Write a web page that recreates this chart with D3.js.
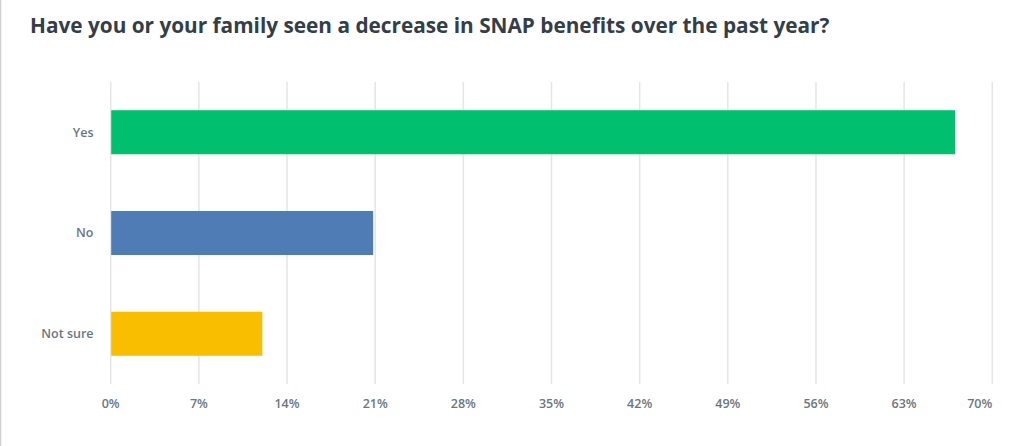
<!DOCTYPE html>
<html>
<head>
<meta charset="utf-8">
<script src="https://cdn.jsdelivr.net/npm/d3@7"></script>
<style>
  html, body { margin: 0; padding: 0; background: #fff; }
  svg { display: block; }
</style>
</head>
<body>
<script>
const title = "Have you or your family seen a decrease in SNAP benefits over the past year?";
const categories = ["Yes", "No", "Not sure"];
const values = [67.0, 20.8, 12.0];
const colors = ["#00bf6f", "#507cb6", "#f9be00"];
const tickValues = [0, 7, 14, 21, 28, 35, 42, 49, 56, 63, 70];

const W = 1024, H = 446;
const svg = d3.select("body").append("svg").attr("width", W).attr("height", H);

// left border
svg.append("line").attr("x1", 0.5).attr("x2", 0.5).attr("y1", 0).attr("y2", H)
  .attr("stroke", "#d0d0d0").attr("stroke-width", 1.5);

const t = svg.append("text")
  .attr("x", 30).attr("y", 33)
  .attr("font-family", "'Open Sans', sans-serif")
  .attr("font-weight", 700)
  .attr("font-size", 21)
  .attr("fill", "#333e48")
  .text(title);
const tl = t.node().getComputedTextLength();
t.attr("font-size", 21 * 800 / tl);

const x = d3.scaleLinear().domain([0, 70]).range([110.7, 992.3]);
const y = d3.scaleBand().domain(categories).range([82, 384]).paddingInner(0.563).paddingOuter(0.28);

// grid
svg.append("g").selectAll("line").data(tickValues).join("line")
  .attr("x1", d => x(d)).attr("x2", d => x(d))
  .attr("y1", 82).attr("y2", 384)
  .attr("stroke", "#e5e5e5").attr("stroke-width", 1.5);

// bars
svg.append("g").selectAll("rect").data(categories).join("rect")
  .attr("x", x(0) + 0.5)
  .attr("y", d => y(d))
  .attr("width", (d, i) => x(values[i]) - x(0))
  .attr("height", y.bandwidth())
  .attr("fill", (d, i) => colors[i]);

// category labels
svg.append("g").selectAll("text").data(categories).join("text")
  .attr("x", 93.5)
  .attr("y", d => y(d) + y.bandwidth() / 2)
  .attr("dy", "0.35em")
  .attr("text-anchor", "end")
  .attr("font-family", "'Open Sans', sans-serif")
  .attr("font-weight", 600)
  .attr("font-size", 12.5)
  .attr("fill", "#6b7681")
  .text(d => d);

// x tick labels
svg.append("g").selectAll("text").data(tickValues).join("text")
  .attr("x", d => x(d))
  .attr("y", 408)
  .attr("text-anchor", (d, i) => i === tickValues.length - 1 ? "end" : "middle")
  .attr("font-family", "'Open Sans', sans-serif")
  .attr("font-weight", 600)
  .attr("font-size", 12.5)
  .attr("fill", "#6b7681")
  .text(d => d + "%");
</script>
</body>
</html>
